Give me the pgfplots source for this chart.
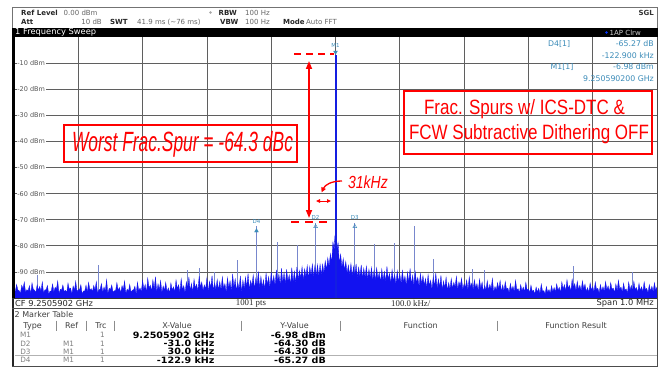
\documentclass[border=0pt]{standalone}
\usepackage{pgfplots}
\pgfplotsset{compat=1.18}
\usepackage{fontspec}
\setmainfont{DejaVu Sans}
\newfontfamily\arial{Liberation Sans}
\newfontfamily\tms{Liberation Serif}
\usetikzlibrary{arrows.meta}
\definecolor{noiseblue}{RGB}{18,18,240}
\definecolor{spurc}{RGB}{120,135,205}
\definecolor{carrierc}{RGB}{20,30,225}
\definecolor{mkc}{RGB}{60,140,185}
\definecolor{gridc}{RGB}{95,95,95}
\definecolor{lblc}{RGB}{85,85,85}
\newcommand{\fs}[1]{\fontsize{#1}{#1}\selectfont}
\newcommand{\bv}[1]{\scalebox{1.1}[1]{#1}}
\begin{document}
\begin{tikzpicture}
\path[use as bounding box, fill=white] (0pt,0pt) rectangle (659pt,373pt);

\begin{axis}[at={(14pt,75pt)}, anchor=south west, width=643pt, height=261pt, scale only axis,
  xmin=-500, xmax=500, ymin=-100, ymax=0,
  xtick={-400,-300,-200,-100,0,100,200,300,400},
  ytick={-90,-80,-70,-60,-50,-40,-30,-20,-10},
  xticklabels={}, yticklabels={}, major tick length=0pt,
  grid=major, grid style={gridc, line width=0.7pt},
  axis line style={draw=none}, unbounded coords=jump]
% discrete spurs
\addplot[spurc, line width=0.8pt] coordinates {
(-463,-100)(-463,-89.5)(-463,nan)
(-369,-100)(-369,-87.4)(-369,nan)
(-231,-100)(-231,-89.3)(-231,nan)
(-212,-100)(-212,-88.5)(-212,nan)
(-189,-100)(-189,-90.0)(-189,nan)
(-152,-100)(-152,-85.4)(-152,nan)
(-122.9,-100)(-122.9,-72.25)(-122.9,nan)
(-91,-100)(-91,-78.5)(-91,nan)
(-60,-100)(-60,-79.7)(-60,nan)
(-31,-100)(-31,-71.28)(-31,nan)
(30,-100)(30,-71.28)(30,nan)
(61,-100)(61,-79.3)(61,nan)
(91,-100)(91,-78.8)(91,nan)
(123,-100)(123,-72.4)(123,nan)
(152,-100)(152,-85.0)(152,nan)
(213,-100)(213,-89.0)(213,nan)
(231,-100)(231,-89.3)(231,nan)
(370,-100)(370,-87.6)(370,nan)
(461,-100)(461,-90.0)
};
% noise floor
\addplot[draw=noiseblue, fill=noiseblue, line width=0.3pt] coordinates {
(-500,-100)
(-500,-96.5)(-498,-97.6)(-496,-94.8)(-494,-96.9)(-492,-97.2)(-490,-98.3)(-488,-95.1)(-486,-96.5)(-484,-93.9)(-482,-97.8)(-480,-96.8)(-478,-97.2)(-476,-95.3)(-474,-98.5)(-472,-94.2)(-470,-96.7)(-468,-97.0)(-466,-98.0)(-464,-95.0)(-462,-97.1)
(-460,-95.6)(-458,-97.4)(-456,-93.8)(-454,-98.1)(-452,-96.9)(-450,-96.8)(-448,-95.2)(-446,-98.5)(-444,-97.4)(-442,-97.3)(-440,-94.6)(-438,-97.7)(-436,-95.9)(-434,-96.6)(-432,-93.5)(-430,-98.2)(-428,-96.7)(-426,-97.0)(-424,-95.0)(-422,-97.5)
(-420,-97.1)(-418,-97.9)(-416,-94.3)(-414,-96.7)(-412,-96.2)(-410,-98.4)(-408,-95.4)(-406,-97.1)(-404,-93.6)(-402,-97.6)(-400,-96.8)(-398,-96.8)(-396,-94.9)(-394,-98.5)(-392,-97.3)(-390,-97.4)(-388,-95.1)(-386,-97.8)(-384,-94.0)(-382,-96.9)
(-380,-96.4)(-378,-97.5)(-376,-95.2)(-374,-97.0)(-372,-93.7)(-370,-98.2)(-368,-96.9)(-366,-96.6)(-364,-94.5)(-362,-97.9)(-360,-95.8)(-358,-97.3)(-356,-92.9)(-354,-98.4)(-352,-96.3)(-350,-96.8)(-348,-95.0)(-346,-97.7)(-344,-97.2)(-342,-97.2)
(-340,-94.1)(-338,-97.1)(-336,-96.0)(-334,-98.0)(-332,-95.3)(-330,-96.7)(-328,-93.4)(-326,-98.3)(-324,-96.6)(-322,-97.4)(-320,-94.8)(-318,-97.8)(-316,-97.0)(-314,-96.9)(-312,-95.5)(-310,-98.5)(-308,-93.9)(-306,-97.2)(-304,-96.2)(-302,-97.6)
(-300,-93.2)(-298,-96.8)(-296,-94.8)(-294,-97.9)(-292,-92.4)(-290,-96.2)(-288,-95.1)(-286,-97.4)(-284,-93.0)(-282,-96.6)(-280,-91.8)(-278,-97.8)(-276,-94.6)(-274,-96.9)(-272,-93.3)(-270,-98.0)(-268,-95.4)(-266,-97.1)(-264,-94.0)(-262,-97.6)
(-260,-96.1)(-258,-98.2)(-256,-94.2)(-254,-97.0)(-252,-95.7)(-250,-97.7)(-248,-93.1)(-246,-96.5)(-244,-94.9)(-242,-97.9)(-240,-92.6)(-238,-96.8)(-236,-95.3)(-234,-98.1)(-232,-93.8)(-230,-96.4)(-228,-91.9)(-226,-97.3)(-224,-94.4)(-222,-97.8)
(-220,-92.8)(-218,-96.3)(-216,-94.7)(-214,-97.4)(-212,-91.6)(-210,-95.9)(-208,-93.9)(-206,-97.1)(-204,-95.0)(-202,-96.6)(-200,-92.3)(-198,-97.7)(-196,-93.6)(-194,-96.1)(-192,-91.4)(-190,-97.2)(-188,-94.2)(-186,-96.7)(-184,-92.9)(-182,-97.0)
(-180,-93.7)(-178,-97.0)(-176,-91.9)(-174,-96.4)(-172,-94.5)(-170,-97.8)(-168,-92.2)(-166,-96.2)(-164,-93.4)(-162,-97.5)(-160,-90.8)(-158,-95.9)(-156,-92.7)(-154,-97.3)(-152,-94.0)(-150,-96.6)(-148,-91.5)(-146,-97.9)(-144,-93.1)(-142,-96.5)
(-140,-92.0)(-138,-95.8)(-136,-90.6)(-134,-96.9)(-132,-93.3)(-130,-95.4)(-128,-91.2)(-126,-96.7)(-124,-92.5)(-122,-95.2)(-120,-89.9)(-118,-96.3)(-116,-91.7)(-114,-95.9)(-112,-93.0)(-110,-96.8)(-108,-90.4)(-106,-95.1)(-104,-91.8)(-102,-96.0)
(-100,-90.1)(-98,-94.6)(-96,-91.5)(-94,-95.3)(-92,-89.2)(-90,-93.9)(-88,-90.8)(-86,-95.0)(-84,-88.6)(-82,-94.2)(-80,-90.3)(-78,-94.8)(-76,-89.0)(-74,-93.6)(-72,-91.1)(-70,-94.9)(-68,-88.4)(-66,-93.8)(-64,-89.7)(-62,-94.4)
(-60,-88.1)(-58,-93.0)(-56,-89.5)(-54,-92.4)(-52,-88.0)(-50,-93.3)(-48,-88.8)(-46,-91.8)(-44,-87.6)(-42,-92.6)(-40,-88.0)(-38,-91.5)(-36,-87.0)(-34,-92.2)(-32,-87.5)(-30,-91.5)(-28,-87.2)(-26,-92.0)(-24,-87.0)(-22,-91.2)
(-20,-87.0)(-18,-90.5)(-16,-85.8)(-14,-89.2)(-12,-84.6)(-10,-88.0)(-8,-83.0)(-6,-86.5)(-4,-78.5)(-2,-81.5)(-1,-76.5)(0,-75.0)(1,-77.0)(2,-81.8)(4,-78.8)(6,-86.8)(8,-83.2)(10,-88.3)(12,-84.9)(14,-89.4)(16,-86.0)(18,-90.6)
(20,-87.4)(22,-91.2)(24,-86.8)(26,-91.8)(28,-87.9)(30,-91.4)(32,-86.9)(34,-92.3)(36,-88.2)(38,-91.9)(40,-87.3)(42,-92.6)(44,-88.6)(46,-92.1)(48,-87.8)(50,-93.0)(52,-89.0)(54,-92.4)(56,-88.3)(58,-93.3)
(60,-89.3)(62,-93.4)(64,-88.4)(66,-92.7)(68,-90.2)(70,-94.0)(72,-88.9)(74,-93.1)(76,-89.8)(78,-93.8)(80,-87.9)(82,-92.9)(84,-90.5)(86,-94.4)(88,-89.1)(90,-93.6)(92,-91.0)(94,-94.7)(96,-89.6)(98,-93.9)
(100,-90.8)(102,-94.5)(104,-89.4)(106,-93.8)(108,-91.6)(110,-95.2)(112,-90.2)(114,-94.0)(116,-88.7)(118,-94.9)(120,-91.3)(122,-95.3)(124,-90.0)(126,-94.2)(128,-92.1)(130,-95.6)(132,-90.6)(134,-94.7)(136,-91.4)(138,-95.1)
(140,-92.5)(142,-96.2)(144,-91.0)(146,-95.4)(148,-93.2)(150,-96.8)(152,-91.8)(154,-95.7)(156,-90.4)(158,-96.4)(160,-92.7)(162,-95.9)(164,-91.3)(166,-97.0)(168,-93.5)(170,-96.1)(172,-92.0)(174,-97.3)(176,-94.1)(178,-96.6)
(180,-92.6)(182,-96.5)(184,-94.0)(186,-95.8)(188,-91.7)(190,-96.9)(192,-93.8)(194,-95.5)(196,-92.4)(198,-96.7)(200,-94.6)(202,-96.0)(204,-93.1)(206,-97.1)(208,-91.9)(210,-95.9)(212,-94.3)(214,-96.8)(216,-93.0)(218,-96.2)
(220,-94.5)(222,-97.3)(224,-92.8)(226,-96.4)(228,-93.9)(230,-97.6)(232,-95.2)(234,-96.9)(236,-93.4)(238,-97.1)(240,-94.8)(242,-96.6)(244,-92.5)(246,-97.8)(248,-95.6)(250,-97.0)(252,-94.1)(254,-96.5)(256,-93.3)(258,-97.7)
(260,-95.0)(262,-97.4)(264,-93.7)(266,-96.7)(268,-96.2)(270,-97.9)(272,-94.4)(274,-97.1)(276,-95.5)(278,-97.6)(280,-93.2)(282,-96.9)(284,-96.4)(286,-98.1)(288,-94.9)(290,-97.3)(292,-95.8)(294,-97.7)(296,-94.0)(298,-97.0)
(300,-96.5)(302,-98.0)(304,-95.1)(306,-97.5)(308,-97.0)(310,-98.5)(312,-95.8)(314,-97.8)(316,-96.3)(318,-98.3)(320,-94.7)(322,-97.4)(324,-97.2)(326,-98.5)(328,-95.6)(330,-97.9)(332,-96.8)(334,-98.2)(336,-95.3)(338,-97.6)
(340,-96.0)(342,-97.7)(344,-94.6)(346,-97.1)(348,-95.9)(350,-98.0)(352,-93.8)(354,-96.6)(356,-94.9)(358,-97.4)(360,-93.0)(362,-96.3)(364,-95.2)(366,-97.5)(368,-92.8)(370,-96.1)(372,-94.5)(374,-97.2)(376,-93.6)(378,-96.8)
(380,-95.1)(382,-97.3)(384,-93.4)(386,-96.5)(388,-94.7)(390,-97.6)(392,-96.0)(394,-97.9)(396,-94.2)(398,-97.0)(400,-95.6)(402,-97.7)(404,-93.9)(406,-96.8)(408,-96.3)(410,-98.1)(412,-94.8)(414,-97.4)(416,-95.7)(418,-97.5)
(420,-93.7)(422,-96.9)(424,-95.4)(426,-97.6)(428,-94.1)(430,-96.7)(432,-96.2)(434,-98.0)(436,-94.6)(438,-97.2)(440,-93.2)(442,-96.6)(444,-95.8)(446,-97.8)(448,-94.3)(450,-97.1)(452,-96.5)(454,-98.2)(456,-93.9)(458,-97.0)
(460,-95.2)(462,-97.5)(464,-93.6)(466,-96.8)(468,-96.0)(470,-97.9)(472,-94.4)(474,-97.2)(476,-95.7)(478,-97.7)(480,-93.8)(482,-96.9)(484,-96.3)(486,-98.1)(488,-94.9)(490,-97.4)(492,-95.5)(494,-97.6)(496,-94.1)(498,-97.1)(500,-95.8)
(500,-100)
};
% carrier
\addplot[carrierc, line width=2pt] coordinates {(0,-100)(0,-6.98)};
% markers
\addplot[only marks, mark=triangle*, mark size=2.2pt, mark options={rotate=180, fill=mkc, draw=mkc}] coordinates {(0,-5.8)};
\addplot[only marks, mark=triangle*, mark size=2.2pt, mark options={fill=mkc, draw=mkc}] coordinates {(-122.9,-74.3)};
\addplot[only marks, mark=triangle, mark size=2.2pt, mark options={draw=mkc, fill=white}] coordinates {(-31,-72.6)(30,-72.6)};
\node[text=mkc, font=\fs{5.5}, inner sep=0] at (axis cs:0,-3.4) {M1};
\node[text=mkc, font=\fs{5.5}, inner sep=0] at (axis cs:-31,-69.2) {D2};
\node[text=mkc, font=\fs{5.5}, inner sep=0] at (axis cs:30,-69.2) {D3};
\node[text=mkc, font=\fs{5.5}, inner sep=0] at (axis cs:-122.9,-70.6) {D4};
\end{axis}

\begin{scope}[x=1pt, y=-1pt, shift={(0pt,373pt)}]
% header box
\draw[black!55, line width=0.6pt] (12,7.5) rectangle (657,28);
\fill[black] (12,28) rectangle (657.5,37);
% y labels
\foreach \v/\yy in {10/63.1,20/89.2,30/115.3,40/141.4,50/167.5,60/193.6,70/219.7,80/245.8,90/271.9}{
  \node[anchor=west, fill=white, inner sep=0.7pt, text=lblc, font=\fs{6.5}] at (16.5,\yy) {-\v{} dBm};
}
% borders
\fill[black] (12,28) rectangle (15,298);
\fill[black!85] (12,298) rectangle (14.2,367);
\draw[black!70, line width=0.6pt] (657,37)--(657,367);
\draw[black!80, line width=0.8pt] (12,298.4)--(657,298.4);
\draw[black!70, line width=0.6pt] (12,308.5)--(657,308.5);
\draw[black!70, line width=0.8pt] (12,366.6)--(657,366.6);
\draw[black!30, line width=0.5pt] (15,355.6)--(657,355.6);

% header text
\begin{scope}[every node/.style={inner sep=0, anchor=west, font=\fs{7}}]
\node[font=\fs{7}\bfseries, text=black!85] at (21,13) {Ref Level};
\node[text=black!60] at (63.5,13) {0.00 dBm};
\node[font=\fs{7}\bfseries, text=black!85] at (218.5,13) {RBW};
\node[text=black!60] at (245,13) {100 Hz};
\node[font=\fs{7}\bfseries, text=black!80, anchor=east] at (654,13) {SGL};
\node[font=\fs{7}\bfseries, text=black!85] at (21,22) {Att};
\node[text=black!60, anchor=east] at (102,22) {10 dB};
\node[font=\fs{7}\bfseries, text=black!85] at (110,22) {SWT};
\node[text=black!60] at (137,22) {41.9 ms (\textasciitilde76 ms)};
\node[font=\fs{7}\bfseries, text=black!85] at (220,22) {VBW};
\node[text=black!60] at (245,22) {100 Hz};
\node[font=\fs{7}\bfseries, text=black!85] at (283,22) {Mode};
\node[text=black!60] at (306,22) {Auto FFT};
\node[text=white, font=\fs{8.3}] at (15,32.3) {1 Frequency Sweep};
\node[text=black!20] at (609.5,32.5) {1AP Clrw};
\end{scope}
\fill[black!35] (210.5,12.5) circle (1.3);
\fill[blue!80!cyan] (606.5,32.5) circle (1.4);

% marker info top right
\begin{scope}[every node/.style={inner sep=0, text=mkc, font=\fs{7.8}}]
\node[anchor=west] at (548,44) {D4[1]};
\node[anchor=east] at (654,44) {-65.27 dB};
\node[anchor=east] at (654,55.7) {-122.900 kHz};
\node[anchor=west] at (550.5,66.7) {M1[1]};
\node[anchor=east] at (654,66.7) {-6.98 dBm};
\node[anchor=east] at (654,79) {9.250590200 GHz};
\end{scope}

% CF row
\begin{scope}[every node/.style={inner sep=0, text=black!85, font=\fs{8.3}}]
\node[anchor=west] at (15,303.4) {CF 9.2505902 GHz};
\node[anchor=west, font=\tms\fs{8.8}] at (235.7,303.4) {1001 pts};
\node[anchor=west, font=\tms\fs{8.8}] at (391,303.4) {100.0 kHz/};
\node[anchor=east] at (654,303.4) {Span 1.0 MHz};
\end{scope}

% marker table
\begin{scope}[every node/.style={inner sep=0, text=black!75, font=\fs{8}}]
\node[anchor=west] at (14.5,315) {2 Marker Table};
\node at (32.6,326) {Type};
\node at (71.7,326) {Ref};
\node at (101,326) {Trc};
\node at (177,326) {X-Value};
\node at (294.6,326) {Y-Value};
\node at (420.7,326) {Function};
\node at (576,326) {Function Result};
\end{scope}
\foreach \xx in {56,86.4,113.8,241,340,497.7}{\draw[black!45, line width=0.5pt] (\xx,320.5)--(\xx,331);}
\begin{scope}[every node/.style={inner sep=0, text=black!50, font=\fs{7.3}}]
\node at (25.5,335) {M1};
\node at (25.5,343.5) {D2};
\node at (25.5,351.7) {D3};
\node at (25.5,360.2) {D4};
\node at (68.5,343.5) {M1};
\node at (68.5,351.7) {M1};
\node at (68.5,360.2) {M1};
\node at (102.5,335) {1};
\node at (102.5,343.5) {1};
\node at (102.5,351.7) {1};
\node at (102.5,360.2) {1};
\end{scope}
\begin{scope}[every node/.style={inner sep=0, anchor=east, text=black, font=\fs{8.7}\bfseries}]
\node at (214.7,335) {\bv{9.2505902 GHz}};
\node at (214.7,343.5) {\bv{-31.0 kHz}};
\node at (214.7,351.7) {\bv{30.0 kHz}};
\node at (214.7,360.2) {\bv{-122.9 kHz}};
\node at (326,335) {\bv{-6.98 dBm}};
\node at (326,343.5) {\bv{-64.30 dB}};
\node at (326,351.7) {\bv{-64.30 dB}};
\node at (326,360.2) {\bv{-65.27 dB}};
\end{scope}

% red annotations
\draw[red, line width=1.8pt, dash pattern=on 7pt off 5pt] (294,54)--(334,54);
\draw[red, line width=1.6pt, {Triangle[length=8pt,width=6pt]}-{Triangle[length=8pt,width=6pt]}] (309,61)--(309,218);
\draw[red, line width=2pt, dash pattern=on 8pt off 6pt] (291,221.8)--(330,221.8);
\draw[red, line width=1pt, {Triangle[length=4pt,width=3.5pt]}-{Triangle[length=4pt,width=3.5pt]}] (316,201)--(331,201);
\draw[red, line width=1.3pt, -{Triangle[length=5pt,width=4.5pt]}] (342,181) .. controls (331,181) and (325,185) .. (321.5,192.5);
\node[text=red, font=\arial\itshape\fs{14}, inner sep=0, anchor=base] at (368,188.3) {\scalebox{1}[1.25]{31kHz}};
\draw[red, line width=1.8pt] (64,125) rectangle (297,162);
\node[text=red, font=\arial\itshape\fs{17.4}, inner sep=0, anchor=base] at (182.5,151) {\scalebox{1}[1.6]{Worst Frac.Spur = -64.3 dBc}};
\draw[red, line width=1.8pt] (404,91) rectangle (652,154);
\node[text=red, font=\arial\fs{17}, inner sep=0, anchor=base] at (524.5,114.5) {\scalebox{1}[1.22]{Frac. Spurs w/ ICS-DTC \&}};
\node[text=red, font=\arial\fs{17}, inner sep=0, anchor=base] at (529,139.3) {\scalebox{1}[1.22]{FCW Subtractive Dithering OFF}};
\end{scope}
\end{tikzpicture}
\end{document}
